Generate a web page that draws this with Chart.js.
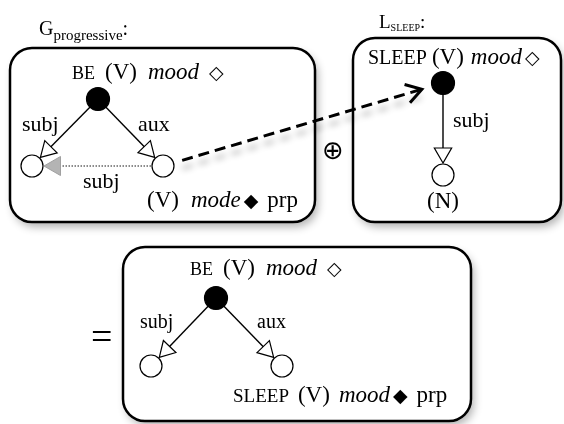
<!DOCTYPE html>
<html><head><meta charset="utf-8">
<script src="https://cdn.jsdelivr.net/npm/chart.js@4"></script>
<style>html,body{margin:0;padding:0;background:#fff;overflow:hidden}</style>
</head><body>
<div style="width:564px;height:424px"><canvas id="c" width="564" height="424"></canvas></div>
<script>
// ---- diagram data ----
const nodeNames  = ['G.be', 'G.subj', 'G.aux', 'L.sleep', 'L.subj', 'R.be', 'R.subj', 'R.aux'];
const nodeX      = [98, 32, 163, 443, 443, 216, 151, 282];
const nodeY      = [99, 166, 166, 83, 175, 298, 366, 366];
const nodeFilled = [true, false, false, true, false, true, false, false];
// solid dependency arcs (from -> to)
const edgeFrom = [0, 0, 3, 5, 5];
const edgeTo   = [1, 2, 4, 6, 7];
// dotted (co-reference) arc and dashed (substitution) arc
const dottedFrom = 2, dottedTo = 1;
const dashedFrom = 2, dashedTo = 3;
// frames
const boxX0 = [10, 353, 123];
const boxY0 = [48, 38, 247];
const boxX1 = [315, 561, 471];
const boxY1 = [222, 222, 421];

// text labels: runs of [text, fontKey, baselineShift]
const labelRuns = [
  [["G","t19"],["progressive","t15",5],[":","t19"]],
  [["L","t18"],["SLEEP","t12",3],[":","t18"]],
  [["BE","sc16"],["(V)","rm22"],["mood","it22"],["◇","sym"]],
  [["subj","rm21"]],
  [["aux","rm21"]],
  [["subj","rm21"]],
  [["(V)","rm22"],["mode","it22"],["◆","sym"],["prp","rm22"]],
  [["SLEEP","sc20"],["(V)","rm22"],["mood","it22"],["◇","sym"]],
  [["subj","rm21"]],
  [["(N)","rm22"]],
  [["⊕","op"]],
  [["=","eq"]],
  [["BE","sc16"],["(V)","rm22"],["mood","it22"],["◇","sym"]],
  [["subj","rm20"]],
  [["aux","rm20"]],
  [["SLEEP","sc19"],["(V)","rm22"],["mood","it22"],["◆","sym"],["prp","rm22"]]
];
const labelX   = [39, 379, 72, 22, 138, 83, 147, 368, 453, 427, 322, 91, 190, 140, 257, 233];
const labelY   = [35, 28, 79, 131, 131, 188, 207, 64, 127, 208, 159, 349, 275, 328, 328, 402];
const labelGap = [[0,0],[0,0],[10,11,10],[],[],[],[12,3,9],[5,7,3],[],[],[],[],[10,11,10],[],[],[9,9,3,9]];

const FONTS = {
  t19: '20px "Liberation Serif"', t15: '15px "Liberation Serif"',
  t18: '19px "Liberation Serif"', t12: '10px "Liberation Serif"',
  sc16: '18px "Liberation Serif"', sc19: '19px "Liberation Serif"', sc20: '20px "Liberation Serif"',
  rm22: '23px "Liberation Serif"', it22: 'italic 23px "Liberation Serif"',
  rm21: '22px "Liberation Serif"', rm20: '20px "Liberation Serif"',
  sym: '19px "DejaVu Sans"', op: '26px "DejaVu Sans"', eq: '38px "Liberation Serif"'
};

// ---- geometry helpers (derived from node data) ----
function unit(a, b) {
  const dx = nodeX[b] - nodeX[a], dy = nodeY[b] - nodeY[a];
  const l = Math.hypot(dx, dy);
  return [dx / l, dy / l];
}
function rad(i) { return nodeFilled[i] ? 11.5 : 11; }
const HEAD_R = 10;
function headOf(a, b, r) {
  const u = unit(a, b);
  const tip = [nodeX[b] - u[0] * (rad(b) + 1), nodeY[b] - u[1] * (rad(b) + 1)];
  return { x: tip[0] - u[0] * r, y: tip[1] - u[1] * r, rot: Math.atan2(u[0], -u[1]) * 180 / Math.PI };
}

const datasets = [];
// solid arcs
edgeFrom.forEach((a, k) => {
  const b = edgeTo[k];
  const h = headOf(a, b, HEAD_R);
  datasets.push({ type: 'scatter', showLine: true, data: [{x: nodeX[a], y: nodeY[a]}, {x: h.x, y: h.y}],
    borderColor: '#000', borderWidth: 1.4, pointRadius: 0, order: 10 });
});
// arrow heads
const heads = edgeFrom.map((a, k) => headOf(a, edgeTo[k], HEAD_R));
datasets.push({ type: 'scatter', data: heads.map(h => ({x: h.x, y: h.y})),
  pointStyle: 'triangle', pointRadius: HEAD_R, rotation: heads.map(h => h.rot),
  backgroundColor: '#fff', borderColor: '#000', borderWidth: 1.2, order: 5 });
// dotted arc
{
  const u = unit(dottedFrom, dottedTo);
  const h = headOf(dottedFrom, dottedTo, 11);
  datasets.push({ type: 'scatter', showLine: true,
    data: [{x: nodeX[dottedFrom] + u[0] * 12, y: nodeY[dottedFrom] + u[1] * 12}, {x: h.x - u[0] * 5, y: h.y - u[1] * 5}],
    borderColor: '#666', borderWidth: 1.4, borderDash: [1.5, 1.5], pointRadius: 0, order: 10 });
  datasets.push({ type: 'scatter', data: [{x: h.x, y: h.y}], pointStyle: 'triangle', pointRadius: 11,
    rotation: h.rot, backgroundColor: '#b4b4b4', borderColor: '#a0a0a0', borderWidth: 1, order: 5 });
}
// dashed substitution arc with open chevron head
{
  const u = unit(dashedFrom, dashedTo);
  const s = {x: nodeX[dashedFrom] + u[0] * 20, y: nodeY[dashedFrom] + u[1] * 20};
  const t = {x: nodeX[dashedTo] - u[0] * 22, y: nodeY[dashedTo] - u[1] * 22};
  const ang = 32 * Math.PI / 180, L = 18;
  function wing(sg) {
    const c = Math.cos(sg * ang), sn = Math.sin(sg * ang);
    const vx = u[0] * c - u[1] * sn, vy = u[0] * sn + u[1] * c;
    return {x: t.x - vx * L, y: t.y - vy * L};
  }
  datasets.push({ type: 'scatter', showLine: true, data: [s, t], borderColor: '#000', borderWidth: 3,
    borderDash: [11, 6], pointRadius: 0, order: 8, shadow: true });
  datasets.push({ type: 'scatter', showLine: true, data: [wing(1), t, wing(-1)], borderColor: '#000', borderWidth: 3,
    borderJoinStyle: 'miter', pointRadius: 0, order: 7 });
}
// nodes
datasets.push({ type: 'scatter', data: nodeX.map((x, i) => ({x, y: nodeY[i]})),
  pointStyle: 'circle', pointRadius: nodeX.map((x, i) => rad(i)),
  backgroundColor: nodeFilled.map(f => f ? '#000' : '#fff'), borderColor: '#000', borderWidth: 1.2, order: 1 });

const framePlugin = {
  id: 'frames',
  beforeDatasetsDraw(chart) {
    const {ctx, scales: {x, y}} = chart;
    boxX0.forEach((x0, i) => {
      const L = x.getPixelForValue(x0), R = x.getPixelForValue(boxX1[i]);
      const T = y.getPixelForValue(boxY0[i]), B = y.getPixelForValue(boxY1[i]);
      ctx.save();
      ctx.beginPath(); ctx.roundRect(L, T, R - L, B - T, 22);
      ctx.shadowColor = 'rgba(0,0,0,0.3)'; ctx.shadowBlur = 8; ctx.shadowOffsetX = 3; ctx.shadowOffsetY = 5;
      ctx.fillStyle = '#fff'; ctx.fill();
      ctx.shadowColor = 'transparent';
      ctx.lineWidth = 2.5; ctx.strokeStyle = '#000'; ctx.stroke();
      ctx.restore();
    });
  },
  beforeDatasetDraw(chart, args) {
    if (args.meta && chart.data.datasets[args.index].shadow) {
      const ctx = chart.ctx; ctx.save();
      ctx.shadowColor = 'rgba(0,0,0,0.3)'; ctx.shadowBlur = 6; ctx.shadowOffsetY = 8; ctx.shadowOffsetX = 0;
    }
  },
  afterDatasetDraw(chart, args) {
    if (args.meta && chart.data.datasets[args.index].shadow) chart.ctx.restore();
  },
  afterDatasetsDraw(chart) {
    const {ctx, scales: {x, y}} = chart;
    ctx.save(); ctx.fillStyle = '#000'; ctx.textBaseline = 'alphabetic'; ctx.textAlign = 'left';
    labelRuns.forEach((runs, i) => {
      let px = x.getPixelForValue(labelX[i]);
      const py = y.getPixelForValue(labelY[i]);
      runs.forEach((r, k) => {
        ctx.font = FONTS[r[1]];
        ctx.fillText(r[0], px, py + (r[2] || 0));
        px += ctx.measureText(r[0]).width + (labelGap[i][k] || 0);
      });
    });
    ctx.restore();
  }
};

new Chart(document.getElementById('c'), {
  type: 'scatter',
  data: { datasets },
  options: {
    responsive: false, animation: false, events: [],
    layout: { padding: 0, autoPadding: false },
    clip: false,
    scales: {
      x: { type: 'linear', min: 0, max: 564, display: false },
      y: { type: 'linear', min: 0, max: 424, reverse: true, display: false }
    },
    plugins: { legend: { display: false }, tooltip: { enabled: false } },
    elements: { line: { tension: 0 } }
  },
  plugins: [framePlugin]
});
</script>
</body></html>
